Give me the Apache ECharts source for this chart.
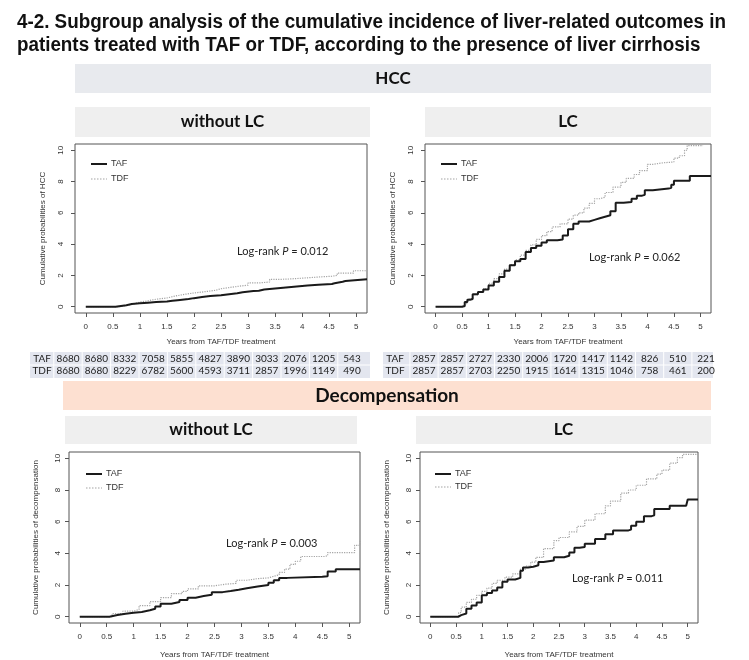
<!DOCTYPE html>
<html><head><meta charset="utf-8">
<script src="https://cdn.jsdelivr.net/npm/echarts@6/dist/echarts.min.js"></script>
<style>html,body{margin:0;padding:0;background:#fff}#c{width:749px;height:660px}</style>
</head><body><div id="c"></div>
<script>
// ---------- data ----------
const xTicks = [0, 0.5, 1, 1.5, 2, 2.5, 3, 3.5, 4, 4.5, 5];
const yTicks = [0, 2, 4, 6, 8, 10];
const seriesNames = ['TAF', 'TDF'];

const hccNoLcTAF = [[0,0],[0.5,0],[0.55,0.05],[0.65,0.1],[0.75,0.18],[0.85,0.22],[1.0,0.26],[1.15,0.3],[1.3,0.33],[1.5,0.38],[1.6,0.42],[1.7,0.5],[1.9,0.55],[2.0,0.62],[2.15,0.68],[2.3,0.74],[2.5,0.8],[2.65,0.86],[2.8,0.93],[2.9,1.0],[3.1,1.02],[3.2,1.1],[3.3,1.2],[3.6,1.25],[3.75,1.3],[3.9,1.35],[4.1,1.4],[4.3,1.45],[4.55,1.5],[4.6,1.6],[4.75,1.65],[4.8,1.75],[5.2,1.75]];
const hccNoLcTDF = [[0,0],[0.5,0],[0.6,0.08],[0.75,0.2],[0.9,0.3],[1.0,0.38],[1.15,0.48],[1.3,0.56],[1.5,0.68],[1.65,0.78],[1.8,0.88],[2.0,0.96],[2.2,1.05],[2.4,1.15],[2.5,1.25],[2.7,1.32],[2.85,1.38],[3.0,1.52],[3.2,1.58],[3.4,1.75],[3.6,1.78],[3.8,1.85],[4.1,1.9],[4.3,1.95],[4.55,2.0],[4.65,2.15],[4.75,2.15],[4.95,2.3],[5.2,2.3]];
const hccLcTAF = [[0,0],[0.5,0.05],[0.55,0.3],[0.6,0.45],[0.65,0.5],[0.7,0.8],[0.8,0.95],[0.9,1.1],[1.0,1.35],[1.1,1.6],[1.2,1.9],[1.3,2.3],[1.4,2.65],[1.5,2.9],[1.6,3.05],[1.7,3.5],[1.8,3.75],[1.9,3.9],[2.0,4.1],[2.1,4.25],[2.3,4.3],[2.4,4.55],[2.5,4.95],[2.6,5.3],[2.7,5.45],[2.9,5.55],[3.0,5.65],[3.1,5.75],[3.2,5.85],[3.3,6.1],[3.4,6.65],[3.55,6.7],[3.7,6.9],[3.8,7.1],[3.9,7.15],[3.95,7.45],[4.1,7.55],[4.4,7.6],[4.45,7.8],[4.5,8.05],[4.8,8.35],[5.2,8.35]];
const hccLcTDF = [[0,0],[0.5,0],[0.55,0.2],[0.6,0.5],[0.7,0.75],[0.8,0.95],[0.9,1.15],[1.0,1.5],[1.1,1.8],[1.2,2.1],[1.3,2.4],[1.4,2.7],[1.5,3.0],[1.6,3.3],[1.7,3.6],[1.8,3.95],[1.9,4.3],[2.0,4.55],[2.1,4.8],[2.2,5.1],[2.35,5.3],[2.5,5.6],[2.6,5.85],[2.7,6.0],[2.8,6.3],[2.9,6.6],[3.0,6.9],[3.1,7.0],[3.2,7.3],[3.35,7.65],[3.5,7.95],[3.6,8.2],[3.75,8.45],[3.85,8.7],[4.0,9.1],[4.1,9.2],[4.3,9.25],[4.5,9.5],[4.6,9.65],[4.7,10.0],[4.75,10.3],[5.05,10.3]];
const decNoLcTAF = [[0,0],[0.5,0],[0.55,0.1],[0.7,0.18],[0.85,0.24],[1.0,0.3],[1.15,0.4],[1.3,0.5],[1.4,0.65],[1.5,0.82],[1.7,0.92],[1.85,1.05],[2.0,1.2],[2.15,1.3],[2.3,1.38],[2.45,1.55],[2.65,1.62],[2.8,1.7],[2.95,1.8],[3.1,1.9],[3.3,2.0],[3.5,2.15],[3.6,2.3],[3.7,2.45],[3.85,2.52],[4.5,2.55],[4.6,2.85],[4.75,3.0],[5.2,3.0]];
const decNoLcTDF = [[0,0],[0.5,0],[0.6,0.2],[0.8,0.35],[1.0,0.45],[1.1,0.7],[1.3,0.95],[1.5,1.2],[1.7,1.45],[1.9,1.6],[2.0,1.75],[2.2,1.95],[2.5,2.05],[2.7,2.1],[2.9,2.3],[3.1,2.4],[3.3,2.45],[3.5,2.55],[3.6,2.65],[3.7,2.8],[3.8,3.0],[3.9,3.3],[4.0,3.5],[4.1,3.8],[4.55,3.85],[4.6,4.05],[5.0,4.05],[5.1,4.5],[5.2,4.8]];
const decLcTAF = [[0,0],[0.5,0],[0.55,0.1],[0.6,0.2],[0.7,0.5],[0.8,0.7],[0.9,0.9],[1.0,1.35],[1.1,1.5],[1.2,1.65],[1.3,1.85],[1.4,2.2],[1.5,2.35],[1.65,2.45],[1.75,2.9],[1.8,3.1],[1.9,3.15],[2.0,3.25],[2.1,3.45],[2.2,3.55],[2.4,3.75],[2.6,3.85],[2.7,4.05],[2.8,4.35],[2.9,4.4],[3.0,4.6],[3.2,4.9],[3.4,5.2],[3.55,5.45],[3.85,5.5],[3.9,5.75],[4.0,6.0],[4.1,6.0],[4.15,6.35],[4.3,6.4],[4.35,6.8],[4.6,6.8],[4.65,7.0],[4.97,7.0],[5.0,7.4],[5.2,7.4]];
const decLcTDF = [[0,0],[0.5,0],[0.55,0.25],[0.6,0.6],[0.7,0.9],[0.8,1.1],[0.9,1.35],[1.0,1.6],[1.1,1.8],[1.2,2.1],[1.3,2.3],[1.45,2.5],[1.6,2.7],[1.75,3.0],[1.85,3.2],[1.95,3.45],[2.05,3.75],[2.2,4.3],[2.4,4.8],[2.5,5.0],[2.7,5.35],[2.85,5.7],[3.0,6.1],[3.2,6.5],[3.4,7.0],[3.5,7.3],[3.7,7.8],[3.85,8.0],[4.0,8.3],[4.2,8.7],[4.4,9.0],[4.5,9.25],[4.65,9.7],[4.8,10.05],[4.9,10.25],[5.2,10.25]];

const riskHccNoLcTAF = [8680, 8680, 8332, 7058, 5855, 4827, 3890, 3033, 2076, 1205, 543];
const riskHccNoLcTDF = [8680, 8680, 8229, 6782, 5600, 4593, 3711, 2857, 1996, 1149, 490];
const riskHccLcTAF = [2857, 2857, 2727, 2330, 2006, 1720, 1417, 1142, 826, 510, 221];
const riskHccLcTDF = [2857, 2857, 2703, 2250, 1915, 1614, 1315, 1046, 758, 461, 200];

const pValues = ['0.012', '0.062', '0.003', '0.011'];
const titleLines = ['4-2. Subgroup analysis of the cumulative incidence of liver-related outcomes in',
                    'patients treated with TAF or TDF, according to the presence of liver cirrhosis'];
const outcomeHeaders = ['HCC', 'Decompensation'];
const subHeaders = ['without LC', 'LC'];
const xName = 'Years from TAF/TDF treatment';
const yNames = ['Cumulative probabilities of HCC', 'Cumulative probabilities of HCC',
                'Cumulative probabilities of decompensation', 'Cumulative probabilities of decompensation'];

// ---------- layout ----------
const panels = [
  {grid:{left:75, top:144, width:292, height:169}, nameGapY:28, lblMarginY:10, nameGapX:25, lblMarginX:10, legend:[91,164,179], p:[237,251], tafData:hccNoLcTAF, tdfData:hccNoLcTDF},
  {grid:{left:425, top:144, width:286, height:169}, nameGapY:28, lblMarginY:10, nameGapX:25, lblMarginX:10, legend:[441,164,179], p:[589,257], tafData:hccLcTAF, tdfData:hccLcTDF},
  {grid:{left:69, top:452, width:291, height:172}, nameGapY:29, lblMarginY:7, nameGapX:28, lblMarginX:10, legend:[86,474,488], p:[226,543], tafData:decNoLcTAF, tdfData:decNoLcTDF},
  {grid:{left:420, top:452, width:278, height:172}, nameGapY:29, lblMarginY:7, nameGapX:28, lblMarginX:10, legend:[435,474,487], p:[572,578], tafData:decLcTAF, tdfData:decLcTDF}
];
const axisColor = '#555';
const txtColor = '#333';
const axisFont = "'Liberation Sans', Arial, sans-serif";
const calFont = "Lato, 'Open Sans', sans-serif";

const grids = [], xAxes = [], yAxes = [], series = [], graphics = [];

panels.forEach((pn, i) => {
  grids.push(Object.assign({show:true, borderColor:axisColor, borderWidth:1, backgroundColor:'transparent'}, pn.grid));
  xAxes.push({
    type:'value', gridIndex:i, min:-0.2, max:5.2,
    splitLine:{show:false}, axisLine:{show:false, onZero:false},
    axisTick:{show:true, inside:false, length:4, customValues:xTicks, lineStyle:{color:axisColor}},
    axisLabel:{customValues:xTicks, margin:pn.lblMarginX, fontSize:8, color:txtColor, fontFamily:axisFont},
    name:xName, nameLocation:'middle', nameGap:pn.nameGapX,
    nameTextStyle:{fontSize:8, color:txtColor, fontFamily:axisFont}
  });
  yAxes.push({
    type:'value', gridIndex:i, min:-0.4, max:10.4,
    splitLine:{show:false}, axisLine:{show:false, onZero:false},
    axisTick:{show:true, inside:false, length:4, customValues:yTicks, lineStyle:{color:axisColor}},
    axisLabel:{customValues:yTicks, rotate:90, margin:pn.lblMarginY, fontSize:8, color:txtColor, fontFamily:axisFont},
    name:yNames[i], nameLocation:'middle', nameGap:pn.nameGapY, nameRotate:90,
    nameTextStyle:{fontSize:8, color:txtColor, fontFamily:axisFont}
  });
  series.push({
    name:seriesNames[0], type:'line', xAxisIndex:i, yAxisIndex:i, step:'end', showSymbol:false, symbol:'none',
    data:pn.tafData, lineStyle:{color:'#1a1a1a', width:2}, z:3, silent:true, animation:false
  });
  series.push({
    name:seriesNames[1], type:'line', xAxisIndex:i, yAxisIndex:i, step:'end', showSymbol:false, symbol:'none',
    data:pn.tdfData, lineStyle:{color:'#a3a3a3', width:1.2, type:'dotted'}, z:2, silent:true, animation:false
  });
  const [lx, ly1, ly2] = pn.legend;
  graphics.push({type:'line', shape:{x1:lx, y1:ly1, x2:lx+16, y2:ly1}, style:{stroke:'#1a1a1a', lineWidth:2}});
  graphics.push({type:'line', shape:{x1:lx, y1:ly2, x2:lx+16, y2:ly2}, style:{stroke:'#a3a3a3', lineWidth:1.2, lineDash:[1.5,1.5]}});
  graphics.push({type:'text', x:lx+20, y:ly1, style:{text:seriesNames[0], font:"9px " + axisFont, fill:txtColor, textVerticalAlign:'middle', verticalAlign:'middle'}});
  graphics.push({type:'text', x:lx+20, y:ly2, style:{text:seriesNames[1], font:"9px " + axisFont, fill:txtColor, textVerticalAlign:'middle', verticalAlign:'middle'}});
  graphics.push({type:'text', x:pn.p[0], y:pn.p[1], style:{
    text:'{n|Log-rank }{i|P}{n| = ' + pValues[i] + '}',
    textVerticalAlign:'middle', verticalAlign:'middle',
    rich:{n:{fontSize:11, fontFamily:calFont, fill:'#222', color:'#222'}, i:{fontSize:11, fontFamily:calFont, fontStyle:'italic', fill:'#222', color:'#222'}}
  }});
});

// title, squeezed horizontally to the reference width (condensed face)
const titleFont = "bold 20px 'Liberation Sans', Arial";
const mctx = document.createElement('canvas').getContext('2d');
mctx.font = titleFont;
const titleScale = 709 / mctx.measureText(titleLines[0]).width;
titleLines.forEach((t, k) => {
  graphics.push({type:'text', x:16, y:22 + k*23, scaleX:titleScale, originX:16, style:{text:t, font:titleFont, fill:'#111', textVerticalAlign:'middle', verticalAlign:'middle'}});
});

function band(x, y, w, h, fill, label, size) {
  graphics.push({type:'rect', shape:{x:x, y:y, width:w, height:h}, style:{fill:fill}, z:-1});
  graphics.push({type:'text', x:x + w/2, y:y + h/2, style:{text:label, font:"bold " + size + "px " + calFont, fill:'#111', textAlign:'center', textVerticalAlign:'middle', verticalAlign:'middle'}});
}
band(75, 64, 636, 29, '#e8eaee', outcomeHeaders[0], 17);
band(75, 107, 295, 30, '#efefef', subHeaders[0], 17);
band(425, 107, 286, 30, '#efefef', subHeaders[1], 17);
band(63, 381, 648, 29, '#fde0d1', outcomeHeaders[1], 19);
band(65, 416, 292, 28, '#efefef', subHeaders[0], 17);
band(416, 416, 295, 28, '#efefef', subHeaders[1], 17);

function table(x0, w, firstCenter, step, labels, rows) {
  graphics.push({type:'rect', shape:{x:x0, y:352, width:w, height:26}, style:{fill:'#e3e6ef'}, z:-1});
  graphics.push({type:'line', shape:{x1:x0, y1:365, x2:x0+w, y2:365}, style:{stroke:'#fff', lineWidth:1}});
  rows.forEach((row, r) => {
    const y = 359 + r*12;
    graphics.push({type:'text', x:x0 + 12, y:y, style:{text:labels[r], font:"10px " + calFont, fill:'#222', textAlign:'center', textVerticalAlign:'middle', verticalAlign:'middle'}});
    row.forEach((v, c) => {
      graphics.push({type:'text', x:firstCenter + c*step, y:y, style:{text:String(v), font:"10px " + calFont, fill:'#222', textAlign:'center', textVerticalAlign:'middle', verticalAlign:'middle'}});
    });
  });
  for (let c = 0; c <= 10; c++) {
    const xl = firstCenter + (c - 0.5)*step;
    graphics.push({type:'line', shape:{x1:xl, y1:352, x2:xl, y2:378}, style:{stroke:'#fff', lineWidth:1}});
  }
}
table(30, 340, 68, 28.4, seriesNames, [riskHccNoLcTAF, riskHccNoLcTDF]);
table(383, 330, 424, 28.2, seriesNames, [riskHccLcTAF, riskHccLcTDF]);

const chart = echarts.init(document.getElementById('c'), null, {renderer:'canvas'});
chart.setOption({
  animation:false,
  backgroundColor:'#fff',
  grid:grids, xAxis:xAxes, yAxis:yAxes, series:series,
  graphic:{elements:graphics}
});
</script></body></html>
